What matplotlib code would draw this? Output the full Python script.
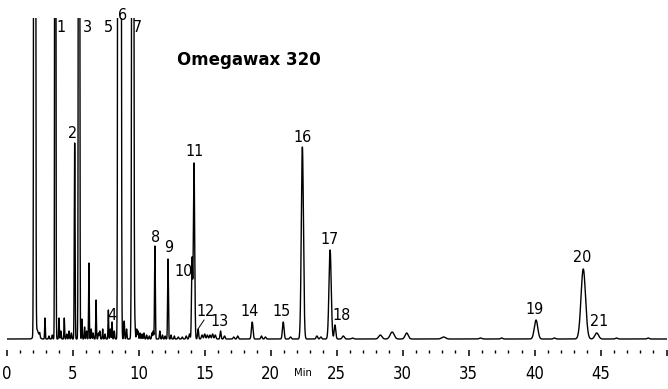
#!/usr/bin/env python3
"""========================================================================
Purpose:
    Chromatogram of the Omegawax 320 column, peaks numbered 1 - 21.
========================================================================"""
#=========================================================================#
# Preamble                                                                #
#=========================================================================#
import numpy as np
import matplotlib
matplotlib.use('Agg')
import matplotlib.pyplot as plt
from matplotlib import font_manager
#-------------------------------------------------------------------------#
# Peak table (retention time in min, height, sigma in min)                #
#-------------------------------------------------------------------------#
peak_names   = ['S', '1', '2', '3', '4', '5', '6', '7', '8', '9', '10',
                '11', '12', '13', '14', '15', '16', '17', '18', '19', '20',
                '21']
peak_times   = [2.12, 3.68, 5.15, 5.48, 7.98, 8.46, 8.61, 9.55, 11.23,
                12.22, 14.04, 14.19, 14.50, 16.20, 18.60, 20.95, 22.40,
                24.50, 24.87, 40.10, 43.68, 44.70]
peak_heights = [5000, 2000, 196, 2000, 17, 2000, 2000, 2000, 93, 80, 80,
                176, 10, 8, 17, 17, 192, 89, 14, 19, 70, 6]
peak_sigmas  = [0.04, 0.03, 0.03, 0.035, 0.025, 0.035, 0.045, 0.05, 0.03,
                0.03, 0.04, 0.05, 0.04, 0.04, 0.06, 0.06, 0.08, 0.085,
                0.06, 0.13, 0.17, 0.14]
#-------------------------------------------------------------------------#
# Unlabelled small peaks and baseline spikes (time, height)               #
#-------------------------------------------------------------------------#
minor_times   = [2.25, 2.50, 2.90, 3.20, 3.45, 3.96, 4.10, 4.36, 4.55,
                 4.72, 4.90, 5.70, 5.90, 6.05, 6.23, 6.40, 6.55, 6.77,
                 6.95, 7.05, 7.27, 7.45, 7.70, 7.85, 8.15, 8.90, 9.08,
                 9.72, 9.85, 9.95, 10.10, 10.25, 10.40, 10.60, 10.80,
                 11.00, 11.10, 11.60, 11.80, 12.00, 12.45, 12.70, 13.00,
                 13.30, 13.60, 13.85, 14.80, 15.00, 15.20, 15.40, 15.60,
                 15.80, 16.50, 17.20, 17.50, 19.30, 19.60, 21.50, 23.50,
                 23.80, 25.50, 26.20, 28.30, 29.20, 30.30, 33.10, 35.90,
                 37.50, 41.50, 46.20, 48.60]
minor_heights = [10, 4, 21, 3, 4, 21, 8, 21, 5,
                 8, 6, 20, 12, 8, 76, 10, 6, 39,
                 6, 8, 10, 5, 29, 10, 8, 18, 10,
                 12, 10, 8, 6, 5, 6, 4, 3,
                 6, 8, 8, 4, 3, 4, 3, 2,
                 2, 3, 5, 4, 5, 4, 4, 5,
                 4, 3, 2, 3, 3, 2, 2, 3,
                 2, 3, 1, 4, 7, 6, 2, 1,
                 1, 1, 1, 1]
minor_sigmas  = [0.15, 0.03, 0.025, 0.03, 0.03, 0.025, 0.03, 0.025, 0.03,
                 0.03, 0.03, 0.025, 0.025, 0.03, 0.025, 0.03, 0.03, 0.025,
                 0.03, 0.03, 0.025, 0.03, 0.025, 0.03, 0.03, 0.03, 0.03,
                 0.03, 0.03, 0.03, 0.03, 0.03, 0.03, 0.03, 0.03,
                 0.03, 0.03, 0.03, 0.03, 0.03, 0.03, 0.03, 0.04,
                 0.04, 0.04, 0.04, 0.05, 0.05, 0.05, 0.05, 0.05,
                 0.05, 0.05, 0.05, 0.05, 0.05, 0.05, 0.06, 0.06,
                 0.06, 0.08, 0.08, 0.12, 0.15, 0.12, 0.15, 0.10,
                 0.08, 0.08, 0.08, 0.08]
#-------------------------------------------------------------------------#
# Axis labels                                                             #
#-------------------------------------------------------------------------#
tick_values = [0, 5, 10, 15, 20, 25, 30, 35, 40, 45, 50]
tick_labels = ['0', '5', '10', '15', '20', '25', '30', '35', '40', '45', '']
title_text  = 'Omegawax 320'
xlabel_text = 'Min'
#=========================================================================#
# Main                                                                    #
#=========================================================================#
#-------------------------------------------------------------------------#
# Narrow font for the numbers                                             #
#-------------------------------------------------------------------------#
narrow = font_manager.FontProperties(family='DejaVu Sans',
                                     stretch='condensed')
print(font_manager.findfont(narrow))
print(sorted(set(f.name for f in font_manager.fontManager.ttflist)))
#-------------------------------------------------------------------------#
# Build the trace                                                         #
#-------------------------------------------------------------------------#
t      = np.linspace(0.0, 50.0, 20001)
signal = np.zeros_like(t)
for c, h, s in zip(peak_times, peak_heights, peak_sigmas):
    signal += h*np.exp(-0.5*((t - c)/s)**2)
for c, h, s in zip(minor_times, minor_heights, minor_sigmas):
    signal += h*np.exp(-0.5*((t - c)/s)**2)
#-------------------------------------------------------------------------#
# Figure                                                                  #
#-------------------------------------------------------------------------#
W, H   = 668.0, 389.0
fig    = plt.figure(figsize=(W/100.0, H/100.0), dpi=100)
ax     = fig.add_axes([6.7/W, 1.0 - 350.0/H, 660.0/W, 332.0/H])
ax.plot(t, signal, color='black', lw=1.0)
ax.set_xlim(0, 50)
ax.set_ylim(-11, 321)
for side in ['left', 'right', 'top', 'bottom']:
    ax.spines[side].set_visible(False)
ax.set_yticks([])
ax.set_xticks(tick_values)
ax.set_xticklabels(tick_labels, fontproperties=narrow, fontsize=12)
ax.set_xticks(np.arange(0, 51, 1), minor=True)
ax.tick_params(axis='x', which='major', direction='out', length=4.5,
               width=1.1, pad=6, color='black')
ax.tick_params(axis='x', which='minor', direction='out', length=2.0,
               width=1.0, color='black')
#-------------------------------------------------------------------------#
# Peak numbers (label position in min / height units)                     #
#-------------------------------------------------------------------------#
label_pos = {'1': (4.11, 311), '2': (5.00, 206), '3': (6.11, 311),
             '4': (7.99, 24), '5': (7.75, 311), '6': (8.79, 323),
             '7': (9.89, 311), '8': (11.26, 102), '9': (12.24, 92),
             '10': (13.38, 67), '11': (14.21, 188), '12': (15.10, 27),
             '13': (16.11, 17), '14': (18.38, 28), '15': (20.83, 28),
             '16': (22.42, 201), '17': (24.44, 100), '18': (25.40, 24),
             '19': (39.97, 30), '20': (43.56, 82), '21': (44.89, 17)}
for name in peak_names[1:]:
    x, y = label_pos[name]
    ax.text(x, y, name, fontproperties=narrow, fontsize=11.5,
            ha='center', va='center', clip_on=False)
# leader line for peak 12
ax.plot([14.52, 14.95], [10.5, 19.0], color='black', lw=0.7)
#-------------------------------------------------------------------------#
# Title and axis label                                                    #
#-------------------------------------------------------------------------#
ax.text(12.9, 279, title_text, fontsize=12, fontweight='bold',
        family='DejaVu Sans', ha='left', va='center')
ax.text(22.45, -33.5, xlabel_text, fontproperties=narrow, fontsize=8,
        ha='center', va='center', clip_on=False)
plt.savefig('out.png', dpi=100)
plt.close()
